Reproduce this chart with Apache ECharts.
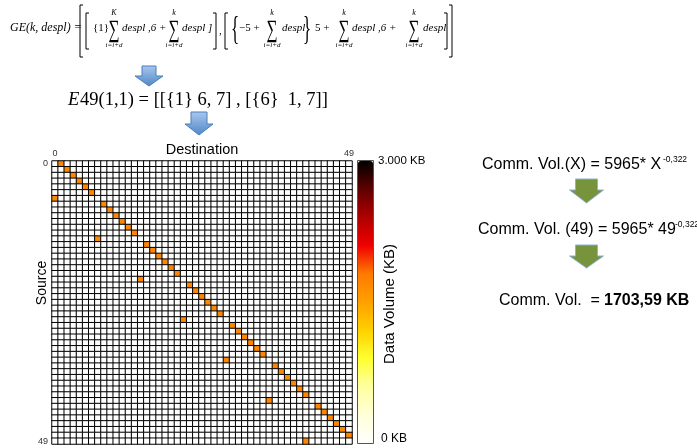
<!DOCTYPE html>
<html>
<head>
<meta charset="utf-8">
<script src="https://cdn.jsdelivr.net/npm/echarts@6/dist/echarts.min.js"></script>
<style>
html,body{margin:0;padding:0;background:#fff;}
#chart{width:697px;height:448px;}
</style>
</head>
<body>
<div id="chart"></div>
<script>
// ---- data ----
const nodeCount = 49;
const nodeIds = Array.from({length: nodeCount}, (_, i) => String(i));
const tickLabels = ['0', '49'];
// destination node that each source row sends to (one message per row)
const destinationOfSource = [
  1, 2, 3, 4, 5, 6, 0,
  8, 9, 10, 11, 12, 13, 7,
  15, 16, 17, 18, 19, 20, 14,
  22, 23, 24, 25, 26, 27, 21,
  29, 30, 31, 32, 33, 34, 28,
  36, 37, 38, 39, 40, 41, 35,
  43, 44, 45, 46, 47, 48, 41
];
const commVolumeKB = 1703.59;
const scaleMaxKB = 3000;
const scaleLabels = ['3.000 KB', '0 KB'];

// matrix table for the heatmap
const cells = [];
for (let r = 0; r < nodeCount; r++) {
  for (let c = 0; c < nodeCount; c++) {
    cells.push([c, r, destinationOfSource[r] === c ? commVolumeKB : 0]);
  }
}

const SERIF = "'Liberation Serif','DejaVu Serif',serif";
const SANS = "'Liberation Sans',Arial,sans-serif";

function txt(x, y, text, font, extra) {
  const st = Object.assign({
    text: text, font: font, fill: '#000',
    textAlign: 'left', textVerticalAlign: 'middle',
    align: 'left', verticalAlign: 'middle'
  }, (extra && extra.style) || {});
  const el = {type: 'text', x: x, y: y, z: 100, style: st};
  if (extra) {
    ['rotation', 'scaleX', 'scaleY'].forEach(k => { if (extra[k] !== undefined) el[k] = extra[k]; });
  }
  return el;
}
function ctxt(x, y, text, font, extra) {
  const e = Object.assign({}, extra || {});
  e.style = Object.assign({textAlign: 'center', align: 'center'}, e.style || {});
  return txt(x, y, text, font, e);
}
function bracket(x, y1, y2, dir) { // dir=1 opening, -1 closing
  return {type: 'polyline', z: 100, shape: {points: [[x + 3 * dir, y1], [x, y1], [x, y2], [x + 3 * dir, y2]]},
    style: {stroke: '#000', lineWidth: 1, fill: null}};
}
function sigma(cx, upper) {
  return [
    ctxt(cx, 30, '\u2211', '25px ' + SERIF, {scaleX: 0.62}),
    ctxt(cx, 13, upper, 'italic 8px ' + SERIF),
    ctxt(cx, 45, 'i=i+d', 'italic 7px ' + SERIF)
  ];
}
function arrow(cx, y0, y1, y2, halfShaft, halfHead, fill, stroke) {
  return {type: 'polygon', z: 100,
    shape: {points: [[cx - halfShaft, y0], [cx + halfShaft, y0], [cx + halfShaft, y1], [cx + halfHead, y1],
      [cx, y2], [cx - halfHead, y1], [cx - halfShaft, y1]]},
    style: {fill: fill, stroke: stroke, lineWidth: 1}};
}
const blueFill = {type: 'linear', x: 0, y: 0, x2: 0, y2: 1,
  colorStops: [{offset: 0, color: '#a9c8ee'}, {offset: 1, color: '#4f86c6'}]};
const greenFill = '#77933c';
const F = '11px ' + SERIF, FI = 'italic 11px ' + SERIF;

const graphics = [].concat(
  [txt(10, 28, 'GE(k, despl) =', 'italic 12px ' + SERIF)],
  [bracket(80, 5, 57, 1), bracket(86, 13, 49, 1)],
  [txt(93, 28, '{1}', F)],
  sigma(114, 'K'),
  [txt(122, 28, 'despl ,6 +', FI)],
  sigma(174, 'k'),
  [txt(182, 28, 'despl ]', FI)],
  [bracket(216, 13, 49, -1), txt(219, 31, ',', F), bracket(225, 13, 49, 1)],
  [txt(231, 30, '{', '34px ' + SERIF, {scaleX: 0.5})],
  [txt(239, 28, '\u22125 +', F)],
  sigma(272, 'k'),
  [txt(282, 28, 'despl', FI)],
  [txt(303, 30, '}', '34px ' + SERIF, {scaleX: 0.5})],
  [txt(315, 28, '5 +', F)],
  sigma(344, 'k'),
  [txt(352, 28, 'despl ,6 +', FI)],
  sigma(414, 'k'),
  [txt(423, 28, 'despl', FI)],
  [bracket(447, 13, 49, -1), bracket(452, 5, 57, -1)],
  [arrow(149, 66, 76, 86, 7, 14, blueFill, '#4a7ebb')],
  [txt(68, 100, 'E', 'italic 18.5px ' + SERIF), txt(80, 100, '49(1,1) = [[{1} 6, 7] , [{6}  1, 7]]', '18.5px ' + SERIF)],
  [arrow(199, 112, 124, 135, 8, 14, blueFill, '#4a7ebb')],
  [ctxt(202, 150, 'Destination', '14.5px ' + SANS)],
  [ctxt(42, 283, 'Source', '14px ' + SANS, {rotation: Math.PI / 2})],
  [txt(378, 161, scaleLabels[0], '11.5px ' + SANS), txt(381, 439, scaleLabels[1], '12px ' + SANS)],
  [ctxt(390, 304, 'Data Volume (KB)', '15px ' + SANS, {rotation: Math.PI / 2})],
  [{type: 'rect', z: 100, shape: {x: 357.5, y: 160.5, width: 16, height: 283},
    style: {fill: null, stroke: '#555', lineWidth: 1}}],
  [txt(482, 165, 'Comm. Vol.(X) = 5965* X', '16px ' + SANS), txt(663, 160, '-0,322', '8.5px ' + SANS)],
  [arrow(586.5, 179, 190, 203, 11, 17, greenFill, '#8fb0d8')],
  [txt(478, 230, 'Comm. Vol. (49) = 5965* 49', '16px ' + SANS), txt(675, 225, '-0,322', '8.5px ' + SANS)],
  [arrow(586.5, 245, 256, 268, 11, 17, greenFill, '#8fb0d8')],
  [txt(499, 301, 'Comm. Vol.  =', '16px ' + SANS), txt(604, 301, '1703,59 KB', 'bold 16px ' + SANS)]
);

function tickFmt(v, i) {
  if (i === 0) return tickLabels[0];
  if (i === nodeCount - 1) return tickLabels[1];
  return '';
}

const chart = echarts.init(document.getElementById('chart'), null, {renderer: 'canvas'});
chart.setOption({
  animation: false,
  backgroundColor: '#fff',
  grid: {left: 52, top: 161, width: 300, height: 283, containLabel: false},
  xAxis: {
    type: 'category', data: nodeIds, position: 'top',
    axisLine: {show: false}, axisTick: {show: false}, splitLine: {show: false},
    axisLabel: {interval: 0, formatter: tickFmt, fontSize: 9, color: '#333', margin: 3, fontFamily: SANS}
  },
  yAxis: {
    type: 'category', data: nodeIds, inverse: true,
    axisLine: {show: false}, axisTick: {show: false}, splitLine: {show: false},
    axisLabel: {interval: 0, formatter: tickFmt, fontSize: 9, color: '#333', margin: 4, fontFamily: SANS}
  },
  visualMap: {
    type: 'continuous', min: 0, max: scaleMaxKB, calculable: false,
    orient: 'vertical', left: 358, top: 161, itemWidth: 15, itemHeight: 282, padding: 0,
    text: null, showLabel: false, hoverLink: false, seriesIndex: 0,
    inRange: {color: ['#ffffff', '#ffffd8', '#ffffa0', '#ffff30', '#ffd000', '#ffa000',
      '#ff7a00', '#f00000', '#b00000', '#600000', '#000000']}
  },
  series: [{
    type: 'heatmap', data: cells,
    itemStyle: {borderColor: '#000', borderWidth: 1},
    emphasis: {disabled: true}
  }],
  graphic: graphics
});
</script>
</body>
</html>
